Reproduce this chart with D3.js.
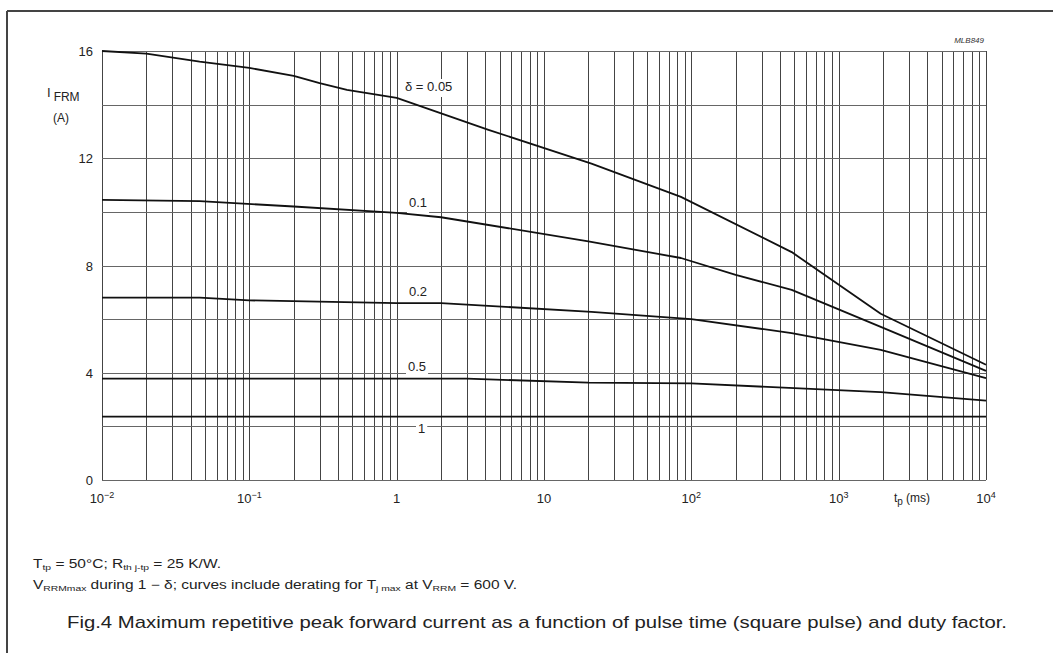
<!DOCTYPE html>
<html>
<head>
<meta charset="utf-8">
<script src="https://cdn.jsdelivr.net/npm/d3@7"></script>
<style>
  html, body { margin: 0; padding: 0; background: #fff; }
  svg { display: block; font-family: "Liberation Sans", Arial, sans-serif; }
</style>
</head>
<body>
<div id="chart"></div>
<script>
// pulse time tp (ms) and peak current IFRM (A)
const tp005 = [0.01, 0.02, 0.046, 0.1, 0.2, 0.3, 0.46, 1, 4.2, 21, 85, 480, 1930, 10000];
const i005  = [16.0, 15.9, 15.6, 15.37, 15.07, 14.8, 14.55, 14.25, 13.06, 11.8, 10.56, 8.5, 6.2, 4.3];
const tp01  = [0.01, 0.046, 0.2, 1, 2, 20, 85, 200, 480, 1930, 10000];
const i01   = [10.45, 10.4, 10.2, 9.96, 9.8, 8.9, 8.28, 7.65, 7.09, 5.71, 4.07];
const tp02  = [0.01, 0.046, 0.1, 1, 2, 21, 100, 480, 1930, 10000];
const i02   = [6.8, 6.8, 6.7, 6.6, 6.6, 6.27, 6.0, 5.48, 4.85, 3.8];
const tp05  = [0.01, 3, 20, 100, 1930, 10000];
const i05   = [3.78, 3.78, 3.63, 3.6, 3.28, 2.96];
const tp1   = [0.01, 10000];
const i1    = [2.36, 2.36];

const deltas = ["δ = 0.05", "0.1", "0.2", "0.5", "1"];
const yTicks = [0, 4, 8, 12, 16];
const xDecades = [-2, -1, 0, 1, 2, 3, 4];

const W = 1053, H = 653;
const svg = d3.select("#chart").append("svg")
  .attr("width", W).attr("height", H);

// page frame from the scan
svg.append("line").attr("x1", 7).attr("x2", W).attr("y1", 11).attr("y2", 11)
  .attr("stroke", "#444").attr("stroke-width", 2);
svg.append("line").attr("x1", 7).attr("x2", 7).attr("y1", 11).attr("y2", H)
  .attr("stroke", "#444").attr("stroke-width", 2);

const x = d3.scaleLog().domain([0.01, 10000]).range([102, 986]);
const y = d3.scaleLinear().domain([0, 16]).range([480, 51]);

const grid = svg.append("g").attr("stroke", "#444").attr("stroke-width", 1);
const vLines = [];
for (let n = -2; n < 4; n++) {
  for (let k = 1; k < 10; k++) vLines.push(k * Math.pow(10, n));
}
vLines.push(10000);
grid.selectAll("line.v").data(vLines).join("line")
  .attr("class", "v")
  .attr("x1", d => Math.round(x(d)) + 0.5).attr("x2", d => Math.round(x(d)) + 0.5)
  .attr("y1", y(16)).attr("y2", y(0));
grid.selectAll("line.h").data(d3.range(0, 17, 2)).join("line")
  .attr("class", "h")
  .attr("stroke", "#666")
  .attr("x1", x(0.01)).attr("x2", x(10000))
  .attr("y1", d => Math.round(y(d)) + 0.5).attr("y2", d => Math.round(y(d)) + 0.5);

// curves
const series = [
  { tp: tp005, i: i005 },
  { tp: tp01, i: i01 },
  { tp: tp02, i: i02 },
  { tp: tp05, i: i05 },
  { tp: tp1, i: i1 }
];
const line = d3.line().x(d => x(d[0])).y(d => y(d[1]));
svg.append("g").selectAll("path").data(series).join("path")
  .attr("d", s => line(s.tp.map((t, j) => [t, s.i[j]])))
  .attr("fill", "none").attr("stroke", "#111").attr("stroke-width", 1.8)
  .attr("stroke-linejoin", "round");

// curve labels with white backing
const labelPos = [
  { x: 405, y: 91 }, { x: 409, y: 207 }, { x: 409, y: 296 }, { x: 408, y: 371 }, { x: 418, y: 433 }
];
const lab = svg.append("g").selectAll("g").data(deltas).join("g");
lab.append("text")
  .attr("x", (d, j) => labelPos[j].x).attr("y", (d, j) => labelPos[j].y)
  .attr("font-size", 13).attr("fill", "#222")
  .text(d => d)
  .each(function () {
    const b = this.getBBox();
    d3.select(this.parentNode).insert("rect", "text")
      .attr("x", b.x - 2).attr("y", b.y).attr("width", b.width + 4).attr("height", b.height + 3)
      .attr("fill", "#fff");
  });

// y tick labels
svg.append("g").selectAll("text").data(yTicks).join("text")
  .attr("x", 93).attr("y", d => y(d) + 5)
  .attr("text-anchor", "end").attr("font-size", 13).attr("fill", "#222")
  .text(d => d);

// x tick labels
const xt = svg.append("g").selectAll("text").data(xDecades).join("text")
  .attr("x", d => x(Math.pow(10, d)))
  .attr("y", 503)
  .attr("text-anchor", "middle").attr("font-size", 13).attr("fill", "#222");
xt.each(function (d) {
  const t = d3.select(this);
  if (d === 0) t.text("1");
  else if (d === 1) t.text("10");
  else {
    t.append("tspan").text("10");
    t.append("tspan").attr("dy", -5).attr("font-size", 9).text(d < 0 ? "−" + (-d) : d);
  }
});

// axis titles
const yt = svg.append("text").attr("x", 47).attr("y", 97).attr("font-size", 13).attr("fill", "#222");
yt.append("tspan").text("I");
yt.append("tspan").attr("dx", 3).attr("dy", 4).attr("font-size", 12).text("FRM");
svg.append("text").attr("x", 53).attr("y", 122).attr("font-size", 12).attr("fill", "#222").text("(A)");

const xtitle = svg.append("text").attr("x", 894).attr("y", 502).attr("font-size", 12).attr("fill", "#222");
xtitle.append("tspan").text("t");
xtitle.append("tspan").attr("dy", 3).attr("font-size", 10).text("p");
xtitle.append("tspan").attr("dy", -3).attr("dx", 3).text("(ms)");

svg.append("text").attr("x", 984).attr("y", 43).attr("text-anchor", "end")
  .attr("font-size", 8).attr("font-style", "italic").attr("fill", "#333").text("MLB849");

// footnotes
const narrow = "'Liberation Sans Narrow', 'Liberation Sans', sans-serif";
const f1 = svg.append("text").attr("x", 33).attr("y", 568)
  .attr("font-size", 12).attr("fill", "#222").attr("font-family", narrow)
  .attr("textLength", 188).attr("lengthAdjust", "spacingAndGlyphs");
f1.append("tspan").text("T");
f1.append("tspan").attr("font-size", 8).attr("dy", 2).text("tp");
f1.append("tspan").attr("dy", -2).text(" = 50°C; R");
f1.append("tspan").attr("font-size", 8).attr("dy", 2).text("th j-tp");
f1.append("tspan").attr("dy", -2).text(" = 25 K/W.");

const f2 = svg.append("text").attr("x", 33).attr("y", 589)
  .attr("font-size", 12).attr("fill", "#222").attr("font-family", narrow)
  .attr("textLength", 484).attr("lengthAdjust", "spacingAndGlyphs");
f2.append("tspan").text("V");
f2.append("tspan").attr("font-size", 8).attr("dy", 2).text("RRMmax");
f2.append("tspan").attr("dy", -2).text(" during 1 − δ; curves include derating for T");
f2.append("tspan").attr("font-size", 8).attr("dy", 2).text("j max");
f2.append("tspan").attr("dy", -2).text(" at V");
f2.append("tspan").attr("font-size", 8).attr("dy", 2).text("RRM");
f2.append("tspan").attr("dy", -2).text(" = 600 V.");

svg.append("text").attr("x", 67).attr("y", 628)
  .attr("font-size", 17).attr("fill", "#222").attr("font-family", narrow)
  .attr("textLength", 940).attr("lengthAdjust", "spacingAndGlyphs")
  .text("Fig.4  Maximum repetitive peak forward current as a function of pulse time (square pulse) and duty factor.");
</script>
</body>
</html>
